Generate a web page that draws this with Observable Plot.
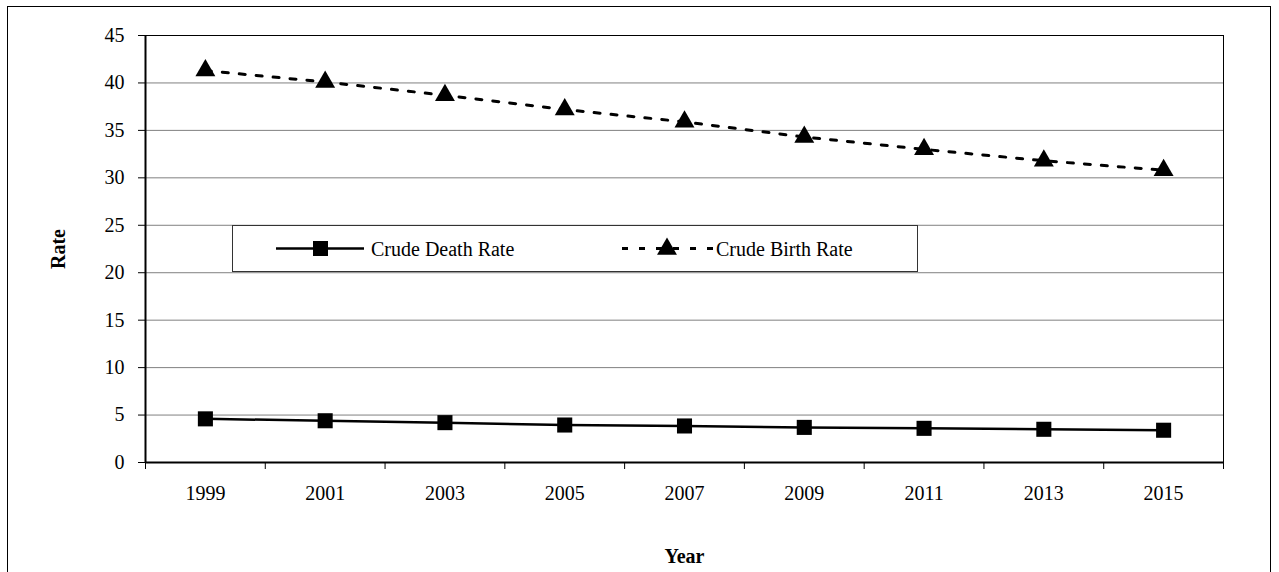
<!DOCTYPE html>
<html>
<head>
<meta charset="utf-8">
<script src="https://cdn.jsdelivr.net/npm/d3@7"></script>
<script src="https://cdn.jsdelivr.net/npm/@observablehq/plot@0.6"></script>
<style>
  body { margin: 0; background: #fff; }
  #wrap { position: relative; width: 1279px; height: 572px; overflow: hidden;
          font-family: "Liberation Serif", "Times New Roman", serif; background: #fff; }
  #wrap svg { display: block; }
  #border { position: absolute; left: 7px; top: 6px; width: 1264px; height: 700px;
            border: 1px solid #000; box-sizing: border-box; pointer-events: none; }
  #legend { position: absolute; left: 232px; top: 225px; width: 686px; height: 47px;
            border: 1px solid #333; box-sizing: border-box; background: #fff; }
</style>
</head>
<body>
<div id="wrap"><div id="border"></div></div>
<script>
// ---- data ----
const years = [1999, 2001, 2003, 2005, 2007, 2009, 2011, 2013, 2015];
const deathRate = [4.6, 4.4, 4.2, 3.95, 3.85, 3.7, 3.6, 3.5, 3.4];
const birthRate = [41.3, 40.1, 38.7, 37.2, 35.9, 34.3, 33.0, 31.8, 30.8];
const seriesNames = ["Crude Death Rate", "Crude Birth Rate"];
const yTicks = [0, 5, 10, 15, 20, 25, 30, 35, 40, 45];
const xBounds = [1998, 2000, 2002, 2004, 2006, 2008, 2010, 2012, 2014, 2016];
const xTitle = "Year";
const yTitle = "Rate";

const death = years.map((y, i) => ({year: y, value: deathRate[i]}));
const birth = years.map((y, i) => ({year: y, value: birthRate[i]}));

const font = "Liberation Serif, Times New Roman, serif";

const chart = Plot.plot({
  width: 1279,
  height: 572,
  marginLeft: 145,
  marginRight: 56,
  marginTop: 35,
  marginBottom: 110,
  style: {fontFamily: font, fontSize: "20px", color: "#000", background: "transparent", overflow: "visible"},
  x: {type: "linear", domain: [xBounds[0], xBounds[xBounds.length - 1]]},
  y: {domain: [0, 45]},
  marks: [
    Plot.gridY(yTicks.filter(v => v > 0 && v < 45), {stroke: "#808080", strokeOpacity: 1, strokeWidth: 1}),
    Plot.frame({stroke: "#000", strokeWidth: 1}),
    Plot.axisY(yTicks, {tickSize: 7, tickPadding: 14, tickFormat: d => String(d), label: null, stroke: "#000", strokeOpacity: 1}),
    Plot.axisX(years, {tickSize: 0, tickPadding: 23, tickFormat: d => String(d), label: null}),
    Plot.axisX(xBounds, {tickSize: 7, tickFormat: () => "", label: null, stroke: "#000", strokeOpacity: 1}),
    Plot.ruleY([0], {stroke: "#000", strokeWidth: 2}),
    Plot.ruleX([xBounds[0]], {stroke: "#000", strokeWidth: 2}),
    Plot.line(death, {x: "year", y: "value", stroke: "#000", strokeWidth: 2.5}),
    Plot.line(birth, {x: "year", y: "value", stroke: "#000", strokeWidth: 3, strokeDasharray: "6,11"}),
    Plot.dot(death, {x: "year", y: "value", symbol: "square", r: 8.5, fill: "#000", stroke: "none"}),
    Plot.dot(birth, {x: "year", y: "value", symbol: "triangle", r: 7.4, fill: "#000", stroke: "none"}),
    Plot.text([xTitle], {text: d => d, frameAnchor: "bottom", dy: 100, fontWeight: "bold", fontSize: 20, fill: "#000"}),
    Plot.text([yTitle], {text: d => d, frameAnchor: "left", textAnchor: "middle", dx: -87, rotate: -90, fontWeight: "bold", fontSize: 20, fill: "#000"})
  ]
});

const wrap = document.getElementById("wrap");
wrap.insertBefore(chart, wrap.firstChild);

// ---- legend (inside the plot area, as in the original) ----
const legend = document.createElement("div");
legend.id = "legend";
const tri = d3.symbol(d3.symbolTriangle, Math.PI * 7.4 * 7.4)();
legend.innerHTML = `
<svg width="684" height="45" style="font-family:${font};font-size:20px">
  <line x1="43" x2="131" y1="22.5" y2="22.5" stroke="#000" stroke-width="2.5"/>
  <rect x="80" y="15" width="15" height="15" fill="#000"/>
  <text x="138" y="22.5" dy="0.35em" fill="#000">${seriesNames[0]}</text>
  <line x1="389" x2="482" y1="22.5" y2="22.5" stroke="#000" stroke-width="3" stroke-dasharray="6,11"/>
  <path d="${tri}" transform="translate(434,23)" fill="#000"/>
  <text x="483" y="22.5" dy="0.35em" fill="#000">${seriesNames[1]}</text>
</svg>`;
wrap.appendChild(legend);
</script>
</body>
</html>
